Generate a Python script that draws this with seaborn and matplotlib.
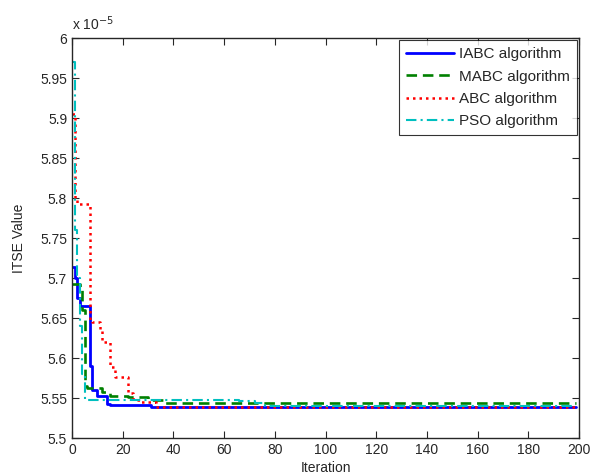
"""
ITSE convergence curves (MATLAB-style figure)
"""
import numpy as np
import pandas as pd
import matplotlib
matplotlib.use('Agg')
import matplotlib.pyplot as plt
import seaborn as sns

# best-so-far values (units of 1e-5), given at the iterations where they change
iabc_it = [0, 1, 2, 3, 7, 8, 10, 14, 15, 31, 199]
iabc_val = [5.714, 5.700, 5.675, 5.665, 5.590, 5.560, 5.552, 5.543, 5.541, 5.539, 5.539]

mabc_it = [0, 3, 4, 5, 6, 12, 15, 22, 30, 36, 199]
mabc_val = [5.692, 5.685, 5.660, 5.565, 5.562, 5.558, 5.553, 5.551, 5.548, 5.544, 5.544]

abc_it = [0, 1, 2, 7, 8, 11, 12, 15, 17, 22, 24, 27, 33, 199]
abc_val = [5.905, 5.800, 5.793, 5.648, 5.645, 5.635, 5.620, 5.589, 5.576, 5.556, 5.548, 5.545, 5.539, 5.539]

pso_it = [0, 1, 2, 3, 4, 5, 62, 66, 72, 76, 199]
pso_val = [5.970, 5.760, 5.700, 5.640, 5.580, 5.548, 5.547, 5.546, 5.544, 5.540, 5.540]

names = ['IABC algorithm', 'MABC algorithm', 'ABC algorithm', 'PSO algorithm']
colors = ['#0000ff', '#008000', '#ff0000', '#00bfbf']
styles = ['-', (0, (4, 2.2)), (0, (1, 1.6)), (0, (5, 2, 1, 2))]
widths = [2.0, 1.9, 1.8, 1.5]

series = [(iabc_it, iabc_val), (mabc_it, mabc_val), (abc_it, abc_val), (pso_it, pso_val)]

sns.set_style('ticks')
plt.rcParams['font.family'] = ['Liberation Sans', 'DejaVu Sans']
fs = 10

fig = plt.figure(figsize=(5.91, 4.76), dpi=100)
ax = fig.add_axes([72 / 591, 38 / 476, 507 / 591, 400 / 476])

for (it, val), name, c, ls, lw in zip(series, names, colors, styles, widths):
    df = pd.DataFrame({'Iteration': it, 'ITSE': val})
    sns.lineplot(data=df, x='Iteration', y='ITSE', ax=ax, color=c, linestyle=ls,
                 linewidth=lw, drawstyle='steps-post', estimator=None, label=name)

ax.set_xlim(0, 200)
ax.set_ylim(5.5, 6.0)
ax.set_xticks(np.arange(0, 201, 20))
yt = np.round(np.arange(5.5, 6.001, 0.05), 2)
ax.set_yticks(yt)
ax.set_yticklabels([f'{v:g}' for v in yt])
ax.tick_params(direction='in', top=True, right=True, labelsize=fs, length=5, width=0.8)
for s in ax.spines.values():
    s.set_linewidth(1.0)
    s.set_visible(True)

ax.set_xlabel('Iteration', fontsize=fs, labelpad=3)
ax.set_ylabel('ITSE Value', fontsize=fs, labelpad=10)
ax.text(0.0, 1.012, r'x 10$^{-5}$', transform=ax.transAxes, fontsize=fs, ha='left', va='bottom')

leg = ax.legend(loc='upper right', fontsize=11, frameon=True, fancybox=False,
                edgecolor='black', handlelength=3.1, handletextpad=0.35,
                borderaxespad=0.15, labelspacing=0.55, borderpad=0.45)
leg.get_frame().set_linewidth(0.8)

fig.savefig('out.png', dpi=100)
plt.close(fig)
